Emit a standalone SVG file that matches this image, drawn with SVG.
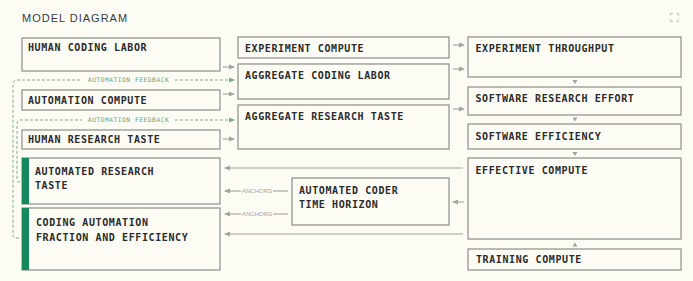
<svg xmlns="http://www.w3.org/2000/svg" width="693" height="281" viewBox="0 0 693 281">
<defs>
<style>
.bg{fill:#fcfcf5}
.box{fill:#fcfcf5;stroke:#8e8e8a;stroke-width:1.2}
.bar{fill:#17875e}
.lbl{font-family:"DejaVu Sans Mono","Liberation Mono",monospace;font-weight:bold;font-size:10px;letter-spacing:0.6px;fill:#2b2b2b}
.title{font-family:"Liberation Sans",Arial,sans-serif;font-size:11px;letter-spacing:1px;fill:#3a3a3a}
.con{fill:none;stroke:#a3a39f;stroke-width:1.1}
.fb{fill:none;stroke:#7ea88e;stroke-width:1;stroke-dasharray:3 2}
.fbt{font-family:"DejaVu Sans Mono","Liberation Mono",monospace;font-size:6.3px;letter-spacing:0.5px;fill:#6f9c80}
.anc{font-family:"Liberation Sans",Arial,sans-serif;font-size:6px;fill:#a3a39f}
.tri{fill:#a3a39f}
</style>
<marker id="ag" viewBox="0 0 6 6" refX="5" refY="3" markerWidth="6" markerHeight="6" markerUnits="userSpaceOnUse" orient="auto">
<path d="M0,0.5 L6,3 L0,5.5 Z" fill="#a3a39f"/>
</marker>
<marker id="agr" viewBox="0 0 6 6" refX="5" refY="3" markerWidth="6" markerHeight="6" markerUnits="userSpaceOnUse" orient="auto">
<path d="M0,0.5 L6,3 L0,5.5 Z" fill="#7ea88e"/>
</marker>
</defs>
<rect class="bg" x="0" y="0" width="693" height="281"/>
<text class="title" x="22" y="22">MODEL DIAGRAM</text>
<g id="expand-icon" fill="none" stroke="#c9c9c4" stroke-width="1">
<path d="M670.5 16 V13.5 H673 M676 13.5 H678.5 V16 M678.5 19 V21.5 H676 M673 21.5 H670.5 V19"/>
</g>

<g id="connectors">
<line class="con" x1="223" y1="67" x2="234" y2="67" marker-end="url(#ag)"/>
<line class="con" x1="223" y1="94" x2="234" y2="94" marker-end="url(#ag)"/>
<line class="con" x1="223" y1="139" x2="234" y2="139" marker-end="url(#ag)"/>
<line class="con" x1="453" y1="45" x2="464" y2="45" marker-end="url(#ag)"/>
<line class="con" x1="453" y1="69" x2="464" y2="69" marker-end="url(#ag)"/>
<line class="con" x1="453" y1="109" x2="464" y2="109" marker-end="url(#ag)"/>
<path class="tri" d="M572.5 80 H577.5 L575 84 Z"/>
<path class="tri" d="M572.5 117.5 H577.5 L575 121.5 Z"/>
<path class="tri" d="M572.5 152 H577.5 L575 156 Z"/>
<path class="tri" d="M572.5 246.5 H577.5 L575 242.5 Z"/>
<line class="con" x1="463" y1="168" x2="225" y2="168" marker-end="url(#ag)"/>
<line class="con" x1="463" y1="234" x2="225" y2="234" marker-end="url(#ag)"/>
<line class="con" x1="464" y1="202" x2="453" y2="202" marker-end="url(#ag)"/>
<line class="con" x1="288" y1="191" x2="273" y2="191"/>
<line class="con" x1="241" y1="191" x2="225" y2="191" marker-end="url(#ag)"/>
<text class="anc" x="257" y="193.2" text-anchor="middle">ANCHORS</text>
<line class="con" x1="288" y1="214" x2="273" y2="214"/>
<line class="con" x1="241" y1="214" x2="225" y2="214" marker-end="url(#ag)"/>
<text class="anc" x="257" y="216.2" text-anchor="middle">ANCHORS</text>
<path class="fb" d="M19 238 H16 Q13 238 13 235 V84 Q13 80 17 80 H82"/>
<path class="fb" d="M175 80 H234" marker-end="url(#agr)"/>
<text class="fbt" x="128.5" y="82.2" text-anchor="middle">AUTOMATION FEEDBACK</text>
<path class="fb" d="M20 182 H19 Q17 182 17 180 V124 Q17 120 21 120 H82"/>
<path class="fb" d="M175 120 H234" marker-end="url(#agr)"/>
<text class="fbt" x="128.5" y="122.2" text-anchor="middle">AUTOMATION FEEDBACK</text>
</g>

<g id="human-coding-labor"><rect class="box" x="22" y="38" width="198" height="33"/><text class="lbl" x="28" y="51">HUMAN CODING LABOR</text></g>
<g id="automation-compute"><rect class="box" x="22" y="90" width="198" height="20"/><text class="lbl" x="28" y="104">AUTOMATION COMPUTE</text></g>
<g id="human-research-taste"><rect class="box" x="22" y="130" width="198" height="19"/><text class="lbl" x="28" y="143">HUMAN RESEARCH TASTE</text></g>
<g id="automated-research-taste"><rect class="box" x="22" y="158" width="198" height="46"/><rect class="bar" x="22" y="158" width="7" height="46"/><text class="lbl" x="35" y="175">AUTOMATED RESEARCH</text><text class="lbl" x="35" y="189">TASTE</text></g>
<g id="coding-automation"><rect class="box" x="22" y="208" width="198" height="62"/><rect class="bar" x="22" y="208" width="7" height="62"/><text class="lbl" x="36" y="226">CODING AUTOMATION</text><text class="lbl" x="36" y="241">FRACTION AND EFFICIENCY</text></g>

<g id="experiment-compute"><rect class="box" x="238" y="37" width="211" height="21"/><text class="lbl" x="245" y="51.5">EXPERIMENT COMPUTE</text></g>
<g id="aggregate-coding-labor"><rect class="box" x="238" y="64" width="211" height="35"/><text class="lbl" x="245" y="79">AGGREGATE CODING LABOR</text></g>
<g id="aggregate-research-taste"><rect class="box" x="238" y="105" width="211" height="44"/><text class="lbl" x="245" y="120">AGGREGATE RESEARCH TASTE</text></g>
<g id="automated-coder-time-horizon"><rect class="box" x="292" y="178" width="157" height="47"/><text class="lbl" x="299" y="194">AUTOMATED CODER</text><text class="lbl" x="299" y="208">TIME HORIZON</text></g>

<g id="experiment-throughput"><rect class="box" x="468" y="37" width="213" height="40"/><text class="lbl" x="475.5" y="51.5">EXPERIMENT THROUGHPUT</text></g>
<g id="software-research-effort"><rect class="box" x="468" y="87" width="213" height="28"/><text class="lbl" x="475.5" y="101.5">SOFTWARE RESEARCH EFFORT</text></g>
<g id="software-efficiency"><rect class="box" x="468" y="124" width="213" height="25"/><text class="lbl" x="475.5" y="140">SOFTWARE EFFICIENCY</text></g>
<g id="effective-compute"><rect class="box" x="468" y="158" width="213" height="81"/><text class="lbl" x="475.5" y="174">EFFECTIVE COMPUTE</text></g>
<g id="training-compute"><rect class="box" x="468" y="249" width="213" height="21"/><text class="lbl" x="476" y="262.5">TRAINING COMPUTE</text></g>
</svg>
